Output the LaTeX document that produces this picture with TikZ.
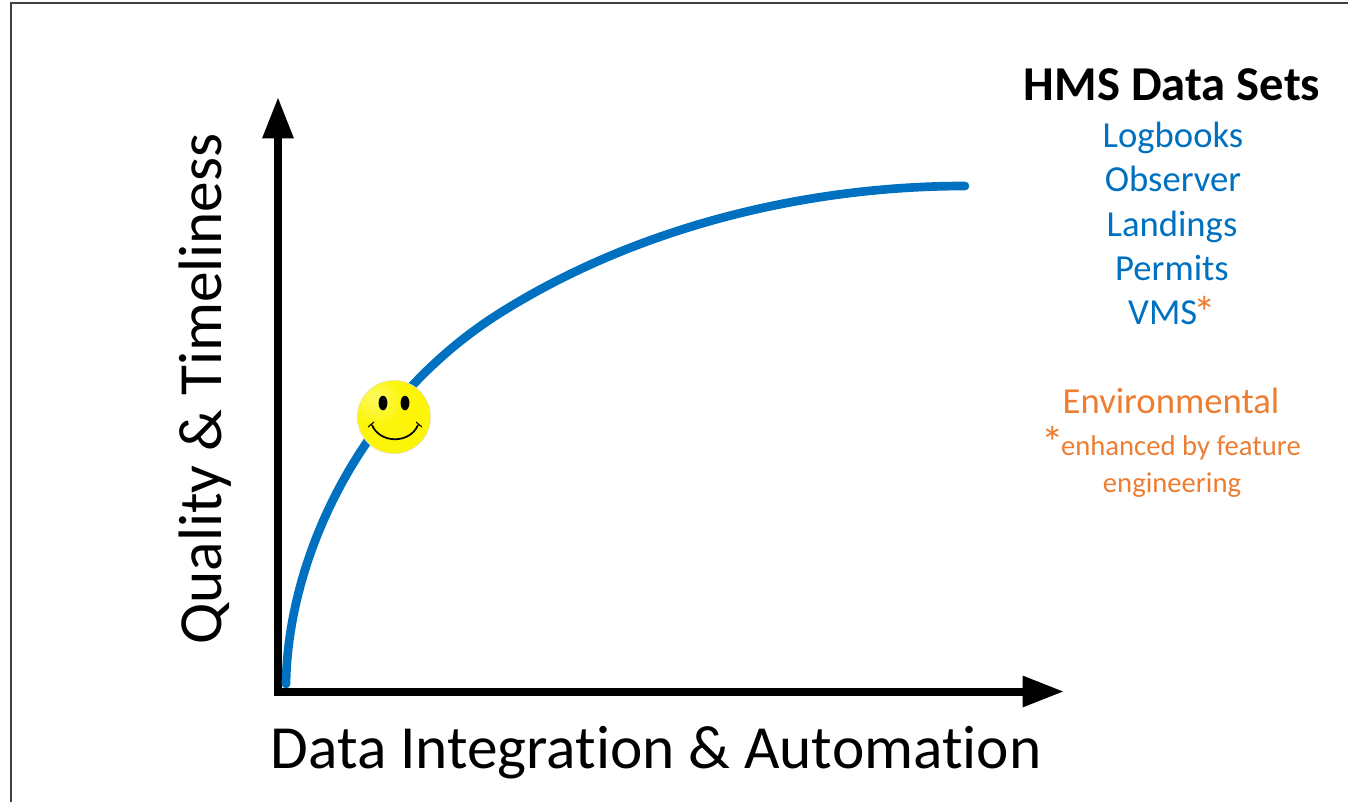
\documentclass[tikz,border=0pt]{standalone}
\usepackage{fontspec}
\setmainfont{Carlito}[Ligatures=NoCommon]
\usetikzlibrary{arrows.meta}
\definecolor{curveblue}{RGB}{0,112,192}
\definecolor{setorange}{RGB}{237,125,49}
\definecolor{smileyyellow}{RGB}{252,245,10}
\pgfdeclareradialshading{smileyball}{\pgfpoint{-14bp}{14bp}}{color(0bp)=(smileyyellow!65!white); color(18bp)=(smileyyellow); color(55bp)=(smileyyellow); color(100bp)=(smileyyellow!80!black)}
\newcommand{\bigstar}{\raisebox{-0.28ex}{\fontsize{34}{34}\selectfont*}}
\tikzset{
	axisline/.style={line width=6pt,line cap=rect,-{Triangle[length=31pt,width=22pt]}},
	axislabel/.style={font=\fontsize{46}{46}\selectfont,inner sep=0pt},
	settitle/.style={font=\fontsize{36.5}{36.5}\selectfont\bfseries,inner sep=0pt,anchor=base},
	setitem/.style={font=\fontsize{27.5}{27.5}\selectfont,text=curveblue,inner sep=0pt,anchor=base},
	setnote/.style={font=\fontsize{21.5}{21.5}\selectfont,text=setorange,inner sep=0pt,anchor=base}
}
\begin{document}
\begin{tikzpicture}[x=0.75pt,y=-0.75pt]
	\useasboundingbox (0,0) rectangle (1348,802);
	\draw[line width=1.1pt,black!75] (11,802) -- (11,3) -- (1348,3);
	\coordinate (origin) at (278,691.5);
	\coordinate (ytip) at (278,97);
	\coordinate (xtip) at (1064,691.5);
	\draw[axisline] (origin) -- (ytip);
	\draw[axisline] (origin) -- (xtip);
	\draw[curveblue,line width=6.5pt,line cap=round] (286,684) .. controls (288,555) and (362,400) .. (500,313) .. controls (640,225) and (810,186) .. (965,186);
	\node[axislabel,anchor=base] (xlabel) at (656,768) {Data Integration \& Automation};
	\node[axislabel,rotate=90] (ylabel) at (205,389) {Quality \& Timeliness};
	% smiley
	\node[circle,draw=black!12,shading=smileyball,minimum size=55pt,inner sep=0pt] (smiley) at (394,417) {};
	\fill (smiley.center) ++(-11,-14) ellipse (3.3pt and 5.5pt);
	\fill (smiley.center) ++(11,-14) ellipse (3.3pt and 5.5pt);
	\draw[line width=1.3pt] (372,425) .. controls (380,444) and (410,444) .. (418,425);
	\draw[line width=0.8pt] (368,427) -- (374,422);
	\draw[line width=0.8pt] (422,427) -- (416,422);
	\node[settitle] (title) at (1172,101) {HMS Data Sets};
	\node[setitem] (logbooks) at (1173,148) {Logbooks};
	\node[setitem] (observer) at (1173,192) {Observer};
	\node[setitem] (landings) at (1172,237) {Landings};
	\node[setitem] (permits) at (1172,280) {Permits};
	\node[setitem] (vms) at (1172,324) {VMS\kern-3pt\textcolor{setorange}{\bigstar}};
	\node[setitem,text=setorange] (environmental) at (1171,413) {Environmental};
	\node[setnote] (enhanced) at (1171,455) {\bigstar\kern-2pt enhanced by feature};
	\node[setnote] (engineering) at (1172,492) {engineering};
\end{tikzpicture}
\end{document}
